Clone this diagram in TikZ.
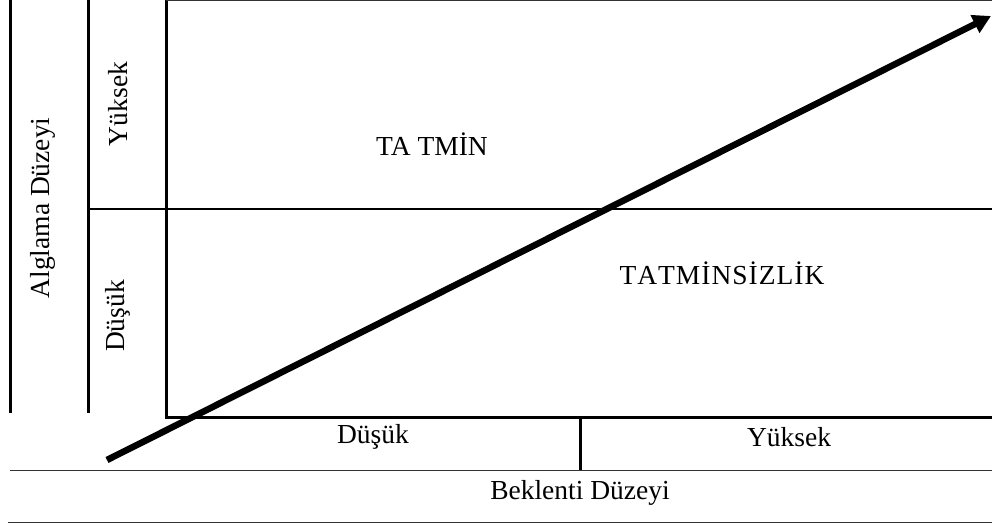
\documentclass[tikz,border=0pt]{standalone}
\usepackage{fontspec}
\setmainfont{Liberation Serif}
\usetikzlibrary{arrows.meta}
\begin{document}
\begin{tikzpicture}[x=1pt,y=-1pt,
  lbl/.style={inner sep=0pt,font=\fontsize{27.5}{32}\selectfont},
  vlbl/.style={lbl,rotate=90},
  thick line/.style={line width=3pt,black},
  thin line/.style={line width=1.5pt,black!80}]
\useasboundingbox (0,0) rectangle (992,526);
% frame lines
\draw[thick line] (10,0) -- (10,413);
\draw[thick line] (88,0) -- (88,413);
\draw[thick line] (166,0) -- (166,417.3) -- (992,417.3);
\draw[thin line] (166,0.7) -- (992,0.7);
\draw[line width=1.3pt] (88,209) -- (992,209);
\draw[thick line] (580,416) -- (580,470);
\draw[thin line] (10,470.5) -- (992,470.5);
\draw[thin line] (8,522.5) -- (992,522.5);
% labels
\node[vlbl] (alg) at (43,208) {Alglama Düzeyi};
\node[vlbl] (yy) at (118,104) {Yüksek};
\node[vlbl] (yd) at (118,316) {Düşük};
\node[lbl] (tat) at (432,144) {TA TMİN};
\node[lbl] (tats) at (722,273) {T\kern1pt A\kern1pt T\kern1pt M\kern1pt İ\kern1pt N\kern1pt S\kern1pt İ\kern1pt Z\kern1pt L\kern1pt İ\kern1pt K};
\node[lbl] (xd) at (373,437) {Düşük};
\node[lbl] (xy) at (789,437) {Yüksek};
\node[lbl] (bek) at (580,493) {Beklenti Düzeyi};
% arrow
\coordinate (a0) at (107,460);
\coordinate (a1) at (991,16);
\draw[line width=6.5pt,-{Triangle[length=18pt,width=19pt]}] (a0) -- (a1);
\end{tikzpicture}
\end{document}
